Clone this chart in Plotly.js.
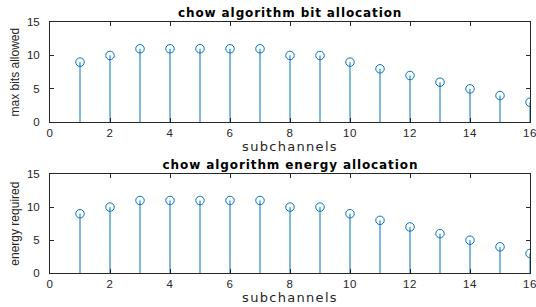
<!DOCTYPE html>
<html><head><meta charset="utf-8">
<script src="https://cdn.plot.ly/plotly-3.0.1.min.js"></script>
<style>
html,body{margin:0;padding:0;background:#fff;overflow:hidden}
#chart{width:536px;height:307px}
#chart .annotation-text{letter-spacing:0.9px}
#chart .xtitle, #chart .x2title{letter-spacing:1.3px}
#chart .xtick text, #chart .x2tick text{letter-spacing:0.6px}
</style>
</head><body><div id="chart"></div>
<script>
const subchannels = [1,2,3,4,5,6,7,8,9,10,11,12,13,14,15,16];
const bits = [9,10,11,11,11,11,11,10,10,9,8,7,6,5,4,3];
const energy = [9,10,11,11,11,11,11,10,10,9,8,7,6,5,4,3];
const xTicks = [0,2,4,6,8,10,12,14,16];
const yTicks = [0,5,10,15];

const blue = '#0072BD';
const axisCol = '#262626';
const font = {family: 'Liberation Sans, Arial, sans-serif', size: 11.5, color: axisCol};

function stem(x, y, xa, ya) {
  return {
    type: 'scatter', mode: 'markers', x: x, y: y, xaxis: xa, yaxis: ya,
    marker: {symbol: 'circle-open', size: 8.5, color: blue, line: {width: 1, color: blue}},
    error_y: {type: 'data', symmetric: false, array: y.map(() => 0), arrayminus: y,
              color: blue, thickness: 1, width: 0},
    hoverinfo: 'x+y', showlegend: false
  };
}

function xaxis(anchor) {
  return {anchor: anchor, domain: [0, 1], range: [0, 16], tickvals: xTicks, ticktext: xTicks.map(String),
    ticks: 'inside', ticklen: 4, tickcolor: axisCol, showline: true, linecolor: axisCol, linewidth: 1,
    mirror: 'allticks', showgrid: false, zeroline: false, tickfont: font, ticklabeloverflow: 'allow',
    title: {text: 'subchannels', font: {family: 'DejaVu Sans, sans-serif', size: 13, color: axisCol}, standoff: 3}};
}
function yaxis(anchor, dom, label) {
  return {anchor: anchor, domain: dom, range: [0, 15], tickvals: yTicks, ticktext: yTicks.map(String),
    ticks: 'inside', ticklen: 4, tickcolor: axisCol, showline: true, linecolor: axisCol, linewidth: 1,
    mirror: 'allticks', showgrid: false, zeroline: false, tickfont: font, ticklabelstandoff: 7,
    title: {text: label, font: {family: font.family, size: 12, color: axisCol}, standoff: 4}};
}

const data = [stem(subchannels, bits, 'x', 'y'), stem(subchannels, energy, 'x2', 'y2')];
const layout = {
  width: 536, height: 307, paper_bgcolor: '#fff', plot_bgcolor: '#fff',
  margin: {l: 50, r: 6, t: 0, b: 0},
  xaxis: xaxis('y'), yaxis: yaxis('x', [0.6016, 0.9283], 'max bits allowed'),
  xaxis2: xaxis('y2'), yaxis2: yaxis('x2', [0.1098, 0.4332], 'energy required'),
  annotations: [
    {text: '<b>chow algorithm bit allocation</b>', xref: 'paper', yref: 'paper', x: 0.5, y: 1 - 13/307,
     xanchor: 'center', yanchor: 'middle', showarrow: false, font: {family: 'DejaVu Sans, sans-serif', size: 12, color: '#000'}},
    {text: '<b>chow algorithm energy allocation</b>', xref: 'paper', yref: 'paper', x: 0.5, y: 1 - 165/307,
     xanchor: 'center', yanchor: 'middle', showarrow: false, font: {family: 'DejaVu Sans, sans-serif', size: 12, color: '#000'}}
  ]
};
Plotly.newPlot('chart', data, layout, {displayModeBar: false, staticPlot: true});
</script></body></html>
